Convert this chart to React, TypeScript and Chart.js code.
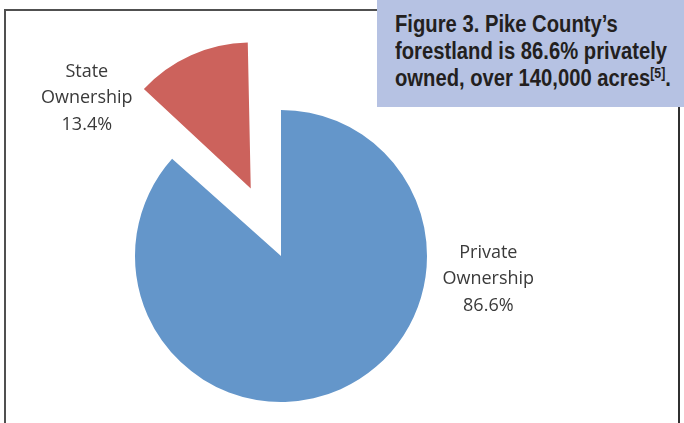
import React, { useEffect, useRef } from "react";
import { Chart, registerables } from "chart.js";

Chart.register(...registerables);

const categories = ["Private Ownership", "State Ownership"];
const shares = [86.6, 13.4];
const labelLines = [
  ["Private", "Ownership", "86.6%"],
  ["State", "Ownership", "13.4%"],
];
const sliceColors = ["#6496CA", "#CC625C"];
// Chart.js draws an arc's offset at a quarter of the option value
const sliceOffsets = [0, 296];
const titleLines = ["Figure 3. Pike County\u2019s", "forestland is 86.6% privately", "owned, over 140,000 acres"];

// label anchor relative to pie centre, in units of the radius
const labelAnchors = [
  [1.42, 0.16],
  [-1.33, -1.08],
];

// keep exploded slices at the same radius as the rest of the pie
const keepRadiusPlugin = {
  id: "keepRadius",
  afterDatasetsUpdate(chart: any) {
    const meta = chart.getDatasetMeta(0);
    meta.data.forEach((arc: any, i: number) => {
      const off = (sliceOffsets[i] || 0) / 4;
      const fix = 1 - Math.sin(Math.min(Math.PI, arc.circumference || 0));
      arc.outerRadius = arc.outerRadius - off * fix;
    });
  },
};

const labelPlugin = {
  id: "sliceLabels",
  afterDatasetsDraw(chart: any) {
    const { ctx } = chart;
    const meta = chart.getDatasetMeta(0);
    const r = chart.options.radius;
    ctx.save();
    ctx.font = '18px "Open Sans", sans-serif';
    ctx.fillStyle = "#3a3a3a";
    ctx.textAlign = "center";
    ctx.textBaseline = "middle";
    meta.data.forEach((arc: any, i: number) => {
      const cx = arc.x + labelAnchors[i][0] * r;
      const cy = arc.y + labelAnchors[i][1] * r;
      const lines = labelLines[i];
      const lh = 26.5;
      lines.forEach((t, j) => {
        ctx.fillText(t, cx, cy + (j - (lines.length - 1) / 2) * lh);
      });
    });
    ctx.restore();
  },
};

export default function App() {
  const ref = useRef<HTMLCanvasElement>(null);
  const titleRef = useRef<HTMLDivElement>(null);
  const line2Ref = useRef<HTMLSpanElement>(null);
  useEffect(() => {
    document.body.style.margin = "0";
    if (titleRef.current && line2Ref.current) {
      const w = line2Ref.current.getBoundingClientRect().width;
      const s = w > 0 ? 272 / w : 1;
      titleRef.current.style.transform = `scaleX(${s})`;
    }
    const chart = new Chart(ref.current!, {
      type: "pie",
      data: {
        labels: categories,
        datasets: [
          {
            data: shares,
            backgroundColor: sliceColors,
            borderWidth: 0,
            offset: sliceOffsets,
          } as any,
        ],
      },
      options: {
        animation: false,
        responsive: false,
        radius: 146,
        layout: { padding: { left: 0, right: 122, top: 89, bottom: 0 } },
        plugins: {
          legend: { display: false },
          tooltip: { enabled: false },
        },
      } as any,
      plugins: [keepRadiusPlugin, labelPlugin],
    });
    return () => chart.destroy();
  }, []);

  return (
    <div style={{ position: "absolute", left: 0, top: 0, width: 684, height: 423, background: "#fff", overflow: "hidden" }}>
      <div
        style={{
          position: "absolute",
          left: 4,
          top: 9,
          width: 676,
          height: 430,
          borderLeft: "2px solid #505050",
          borderTop: "2px solid #505050",
          borderRight: "2px solid #303030",
          boxSizing: "border-box",
        }}
      />
      <canvas ref={ref} width={684} height={423} style={{ position: "absolute", left: 0, top: 0, width: 684, height: 423 }} />
      <div
        style={{
          position: "absolute",
          left: 377,
          top: 0,
          width: 307,
          height: 107,
          background: "#B6C2E3",
        }}
      >
        <div
          ref={titleRef}
          style={{
            position: "absolute",
            left: 18,
            top: 11,
            transformOrigin: "0 0",
            fontFamily: '"Liberation Sans", Arial, sans-serif',
            fontWeight: "bold",
            fontSize: 23,
            lineHeight: "27px",
            color: "#231F20",
            whiteSpace: "nowrap",
          }}
        >
          <div><span>{titleLines[0]}</span></div>
          <div><span ref={line2Ref}>{titleLines[1]}</span></div>
          <div>
            <span>{titleLines[2]}</span>
            <sup style={{ fontSize: 14, lineHeight: 0, verticalAlign: "8px" }}>[5]</sup>.
          </div>
        </div>
      </div>
    </div>
  );
}
